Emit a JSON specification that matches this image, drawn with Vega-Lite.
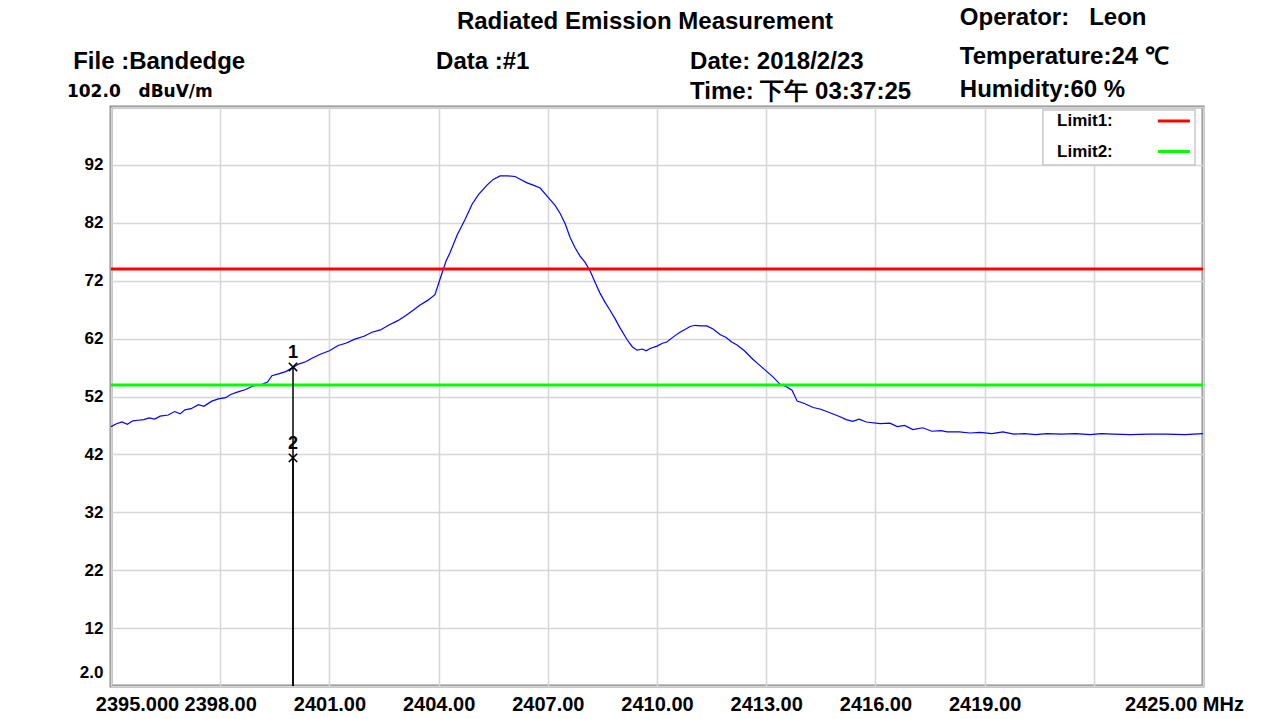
{
  "$schema": "https://vega.github.io/schema/vega-lite/v6.json",
  "width": 1092,
  "height": 579,
  "autosize": {"type": "none"},
  "padding": {"left": 111, "top": 107, "right": 76, "bottom": 33},
  "background": "white",
  "config": {
    "view": {"stroke": "#8c8c8c", "strokeWidth": 3},
    "font": "Liberation Sans"
  },
  "datasets": {
    "trace": [
      {"f": 2395.00, "v": 46.8}, {"f": 2395.15, "v": 47.3}, {"f": 2395.30, "v": 47.6}, {"f": 2395.45, "v": 47.2},
      {"f": 2395.60, "v": 47.8}, {"f": 2395.74, "v": 47.9}, {"f": 2395.90, "v": 48.0}, {"f": 2396.05, "v": 48.3},
      {"f": 2396.20, "v": 48.1}, {"f": 2396.35, "v": 48.6}, {"f": 2396.57, "v": 48.8}, {"f": 2396.75, "v": 49.4},
      {"f": 2396.90, "v": 49.0}, {"f": 2397.03, "v": 49.7}, {"f": 2397.20, "v": 49.9}, {"f": 2397.40, "v": 50.6},
      {"f": 2397.55, "v": 50.3}, {"f": 2397.77, "v": 51.2}, {"f": 2397.95, "v": 51.6}, {"f": 2398.15, "v": 51.8},
      {"f": 2398.30, "v": 52.4}, {"f": 2398.49, "v": 52.8}, {"f": 2398.70, "v": 53.2}, {"f": 2398.90, "v": 53.8},
      {"f": 2399.15, "v": 54.1}, {"f": 2399.30, "v": 54.5}, {"f": 2399.42, "v": 55.6}, {"f": 2399.60, "v": 55.9},
      {"f": 2399.80, "v": 56.3}, {"f": 2399.97, "v": 56.9}, {"f": 2400.15, "v": 57.6}, {"f": 2400.35, "v": 58.0},
      {"f": 2400.52, "v": 58.6}, {"f": 2400.75, "v": 59.3}, {"f": 2401.00, "v": 59.9}, {"f": 2401.24, "v": 60.8},
      {"f": 2401.45, "v": 61.2}, {"f": 2401.70, "v": 61.9}, {"f": 2401.95, "v": 62.4}, {"f": 2402.17, "v": 63.1},
      {"f": 2402.40, "v": 63.5}, {"f": 2402.65, "v": 64.4}, {"f": 2402.88, "v": 65.1}, {"f": 2403.10, "v": 66.0},
      {"f": 2403.30, "v": 66.9}, {"f": 2403.49, "v": 67.8}, {"f": 2403.70, "v": 68.6}, {"f": 2403.90, "v": 69.6},
      {"f": 2404.04, "v": 72.3}, {"f": 2404.20, "v": 75.3}, {"f": 2404.31, "v": 76.8}, {"f": 2404.51, "v": 79.9},
      {"f": 2404.73, "v": 82.6}, {"f": 2404.92, "v": 85.2}, {"f": 2405.10, "v": 86.9}, {"f": 2405.33, "v": 88.5},
      {"f": 2405.50, "v": 89.5}, {"f": 2405.69, "v": 90.1}, {"f": 2405.90, "v": 90.1}, {"f": 2406.10, "v": 90.0},
      {"f": 2406.28, "v": 89.4}, {"f": 2406.43, "v": 88.9}, {"f": 2406.60, "v": 88.5}, {"f": 2406.79, "v": 88.0},
      {"f": 2407.01, "v": 86.4}, {"f": 2407.20, "v": 85.0}, {"f": 2407.34, "v": 83.6}, {"f": 2407.48, "v": 81.8},
      {"f": 2407.61, "v": 79.5}, {"f": 2407.75, "v": 77.7}, {"f": 2407.88, "v": 76.3}, {"f": 2408.02, "v": 75.2},
      {"f": 2408.16, "v": 73.7}, {"f": 2408.30, "v": 71.7}, {"f": 2408.43, "v": 69.9}, {"f": 2408.57, "v": 68.3},
      {"f": 2408.71, "v": 66.9}, {"f": 2408.85, "v": 65.4}, {"f": 2408.98, "v": 63.9}, {"f": 2409.18, "v": 61.8},
      {"f": 2409.32, "v": 60.6}, {"f": 2409.45, "v": 60.0}, {"f": 2409.60, "v": 60.2}, {"f": 2409.70, "v": 59.9},
      {"f": 2409.81, "v": 60.3}, {"f": 2410.00, "v": 60.7}, {"f": 2410.15, "v": 61.2}, {"f": 2410.27, "v": 61.4},
      {"f": 2410.45, "v": 62.3}, {"f": 2410.63, "v": 63.1}, {"f": 2410.78, "v": 63.6}, {"f": 2410.91, "v": 64.1},
      {"f": 2411.05, "v": 64.3}, {"f": 2411.20, "v": 64.2}, {"f": 2411.37, "v": 64.2}, {"f": 2411.55, "v": 63.6},
      {"f": 2411.73, "v": 62.7}, {"f": 2411.90, "v": 62.2}, {"f": 2412.05, "v": 61.4}, {"f": 2412.20, "v": 60.9},
      {"f": 2412.40, "v": 59.9}, {"f": 2412.64, "v": 58.4}, {"f": 2412.80, "v": 57.5}, {"f": 2413.02, "v": 56.3},
      {"f": 2413.20, "v": 55.3}, {"f": 2413.38, "v": 54.1}, {"f": 2413.55, "v": 53.7}, {"f": 2413.71, "v": 53.1},
      {"f": 2413.85, "v": 51.2}, {"f": 2414.05, "v": 50.8}, {"f": 2414.29, "v": 50.1}, {"f": 2414.50, "v": 49.8},
      {"f": 2414.75, "v": 49.2}, {"f": 2415.03, "v": 48.5}, {"f": 2415.20, "v": 48.0}, {"f": 2415.38, "v": 47.7},
      {"f": 2415.55, "v": 48.1}, {"f": 2415.75, "v": 47.6}, {"f": 2416.13, "v": 47.3}, {"f": 2416.40, "v": 47.4},
      {"f": 2416.60, "v": 46.8}, {"f": 2416.80, "v": 47.0}, {"f": 2417.03, "v": 46.3}, {"f": 2417.30, "v": 46.6},
      {"f": 2417.55, "v": 46.0}, {"f": 2417.80, "v": 46.1}, {"f": 2417.97, "v": 45.9}, {"f": 2418.30, "v": 45.9},
      {"f": 2418.60, "v": 45.7}, {"f": 2418.87, "v": 45.8}, {"f": 2419.20, "v": 45.6}, {"f": 2419.50, "v": 45.9},
      {"f": 2419.80, "v": 45.5}, {"f": 2420.10, "v": 45.6}, {"f": 2420.40, "v": 45.4}, {"f": 2420.71, "v": 45.6},
      {"f": 2421.10, "v": 45.5}, {"f": 2421.50, "v": 45.6}, {"f": 2421.90, "v": 45.4}, {"f": 2422.20, "v": 45.6},
      {"f": 2422.53, "v": 45.5}, {"f": 2423.00, "v": 45.4}, {"f": 2423.50, "v": 45.5}, {"f": 2424.00, "v": 45.5},
      {"f": 2424.50, "v": 45.4}, {"f": 2425.00, "v": 45.6}
    ],
    "limits": [
      {"limit": "Limit1", "value": 74},
      {"limit": "Limit2", "value": 54}
    ],
    "markers": [
      {"id": "1", "f": 2400.0, "v": 57.1},
      {"id": "2", "f": 2400.0, "v": 41.4}
    ],
    "legendbox": [
      {"x1": 2420.6, "x2": 2424.78, "y1": 92.0, "y2": 101.5}
    ],
    "legend": [
      {"limit": "Limit1", "label": "Limit1:", "tx": 2420.99, "sx1": 2423.76, "sx2": 2424.64, "ly": 99.6},
      {"limit": "Limit2", "label": "Limit2:", "tx": 2420.99, "sx1": 2423.76, "sx2": 2424.64, "ly": 94.3}
    ],
    "title": [
      {"text": "Radiated Emission Measurement", "x": 2409.67, "y": 116.7}
    ],
    "info": [
      {"text": "Operator:\u00a0\u00a0\u00a0Leon", "x": 2418.32, "y": 117.4},
      {"text": "File :Bandedge", "x": 2393.96, "y": 109.8},
      {"text": "Data :#1", "x": 2403.93, "y": 109.8},
      {"text": "Date: 2018/2/23", "x": 2410.91, "y": 109.8},
      {"text": "Temperature:24 ℃", "x": 2418.32, "y": 110.6},
      {"text": "Time: 下午 03:37:25", "x": 2410.91, "y": 104.6},
      {"text": "Humidity:60 %", "x": 2418.32, "y": 104.9}
    ],
    "unit": [
      {"text": "102.0\u00a0\u00a0\u00a0dBuV/m", "x": 2393.79, "y": 104.6}
    ]
  },
  "layer": [
    {
      "data": {"name": "trace"},
      "mark": {"type": "line", "color": "#0000ff", "strokeWidth": 1.2, "interpolate": "linear"},
      "encoding": {
        "x": {
          "field": "f", "type": "quantitative", "title": null,
          "scale": {"domain": [2395, 2425], "nice": false, "zero": false},
          "axis": {
            "values": [2395, 2398, 2401, 2404, 2407, 2410, 2413, 2416, 2419, 2422, 2425],
            "labelExpr": "datum.value == 2395 ? '2395.000' : datum.value == 2422 ? '' : datum.value == 2425 ? '2425.00 MHz' : format(datum.value, '.2f')",
            "labelOffset": {"condition": [{"test": "datum.value == 2395", "value": 26}, {"test": "datum.value == 2425", "value": -19}], "value": 0},
            "labelFont": "Liberation Sans", "labelFontSize": 20, "labelFontWeight": "bold", "labelColor": "#000000",
            "labelPadding": 8, "labelOverlap": false, "labelFlush": false,
            "ticks": false, "domain": false,
            "grid": true, "gridColor": "#d6d6d6", "gridWidth": 1.5
          }
        },
        "y": {
          "field": "v", "type": "quantitative", "title": null,
          "scale": {"domain": [2, 102], "nice": false, "zero": false},
          "axis": {
            "values": [2, 12, 22, 32, 42, 52, 62, 72, 82, 92, 102],
            "labelExpr": "datum.value == 2 ? '2.0' : datum.value == 102 ? '' : format(datum.value, 'd')",
            "labelOffset": {"condition": {"test": "datum.value == 2", "value": -14}, "value": 0},
            "labelFont": "Liberation Sans", "labelFontSize": 17, "labelFontWeight": "bold", "labelColor": "#000000",
            "labelPadding": 8, "labelOverlap": false, "labelFlush": false,
            "ticks": false, "domain": false,
            "grid": true, "gridColor": "#d6d6d6", "gridWidth": 1.5
          }
        }
      }
    },
    {
      "data": {"name": "limits"},
      "mark": {"type": "rule", "strokeWidth": 3},
      "encoding": {
        "y": {"field": "value", "type": "quantitative", "title": null},
        "color": {"field": "limit", "type": "nominal", "legend": null,
                  "scale": {"domain": ["Limit1", "Limit2"], "range": ["#ff0000", "#00ff00"]}}
      }
    },
    {
      "data": {"name": "markers"},
      "mark": {"type": "rule", "color": "#000000", "strokeWidth": 1.5},
      "encoding": {
        "x": {"field": "f", "type": "quantitative", "title": null},
        "y": {"field": "v", "type": "quantitative", "title": null},
        "y2": {"datum": 2}
      }
    },
    {
      "data": {"name": "markers"},
      "mark": {"type": "point", "shape": "M-1,-1L1,1M-1,1L1,-1", "filled": false, "color": "#000000", "strokeWidth": 1.6, "size": 70, "opacity": 1},
      "encoding": {
        "x": {"field": "f", "type": "quantitative", "title": null},
        "y": {"field": "v", "type": "quantitative", "title": null}
      }
    },
    {
      "data": {"name": "markers"},
      "mark": {"type": "text", "font": "Liberation Sans", "fontSize": 18, "fontWeight": "bold", "color": "#000000", "dy": -14, "baseline": "middle", "align": "center"},
      "encoding": {
        "x": {"field": "f", "type": "quantitative", "title": null},
        "y": {"field": "v", "type": "quantitative", "title": null},
        "text": {"field": "id"}
      }
    },
    {
      "data": {"name": "legendbox"},
      "mark": {"type": "rect", "fill": "#ffffff", "stroke": "#c8c8c8", "strokeWidth": 1.5},
      "encoding": {
        "x": {"field": "x1", "type": "quantitative", "title": null},
        "x2": {"field": "x2"},
        "y": {"field": "y1", "type": "quantitative", "title": null},
        "y2": {"field": "y2"}
      }
    },
    {
      "data": {"name": "legend"},
      "mark": {"type": "text", "font": "Liberation Sans", "fontSize": 17, "fontWeight": "bold", "color": "#000000", "align": "left", "baseline": "middle"},
      "encoding": {
        "x": {"field": "tx", "type": "quantitative", "title": null},
        "y": {"field": "ly", "type": "quantitative", "title": null},
        "text": {"field": "label"}
      }
    },
    {
      "data": {"name": "legend"},
      "mark": {"type": "rule", "strokeWidth": 3},
      "encoding": {
        "x": {"field": "sx1", "type": "quantitative", "title": null},
        "x2": {"field": "sx2"},
        "y": {"field": "ly", "type": "quantitative", "title": null},
        "color": {"field": "limit", "type": "nominal", "legend": null}
      }
    },
    {
      "data": {"name": "title"},
      "mark": {"type": "text", "font": "Liberation Sans", "fontSize": 24, "fontWeight": "bold", "color": "#000000", "align": "center", "baseline": "middle"},
      "encoding": {
        "x": {"field": "x", "type": "quantitative", "title": null},
        "y": {"field": "y", "type": "quantitative", "title": null},
        "text": {"field": "text"}
      }
    },
    {
      "data": {"name": "info"},
      "mark": {"type": "text", "font": "Liberation Sans", "fontSize": 24, "fontWeight": "bold", "color": "#000000", "align": "left", "baseline": "middle"},
      "encoding": {
        "x": {"field": "x", "type": "quantitative", "title": null},
        "y": {"field": "y", "type": "quantitative", "title": null},
        "text": {"field": "text"}
      }
    },
    {
      "data": {"name": "unit"},
      "mark": {"type": "text", "font": "DejaVu Sans", "fontSize": 17, "fontWeight": "bold", "color": "#000000", "align": "left", "baseline": "middle"},
      "encoding": {
        "x": {"field": "x", "type": "quantitative", "title": null},
        "y": {"field": "y", "type": "quantitative", "title": null},
        "text": {"field": "text"}
      }
    }
  ]
}
